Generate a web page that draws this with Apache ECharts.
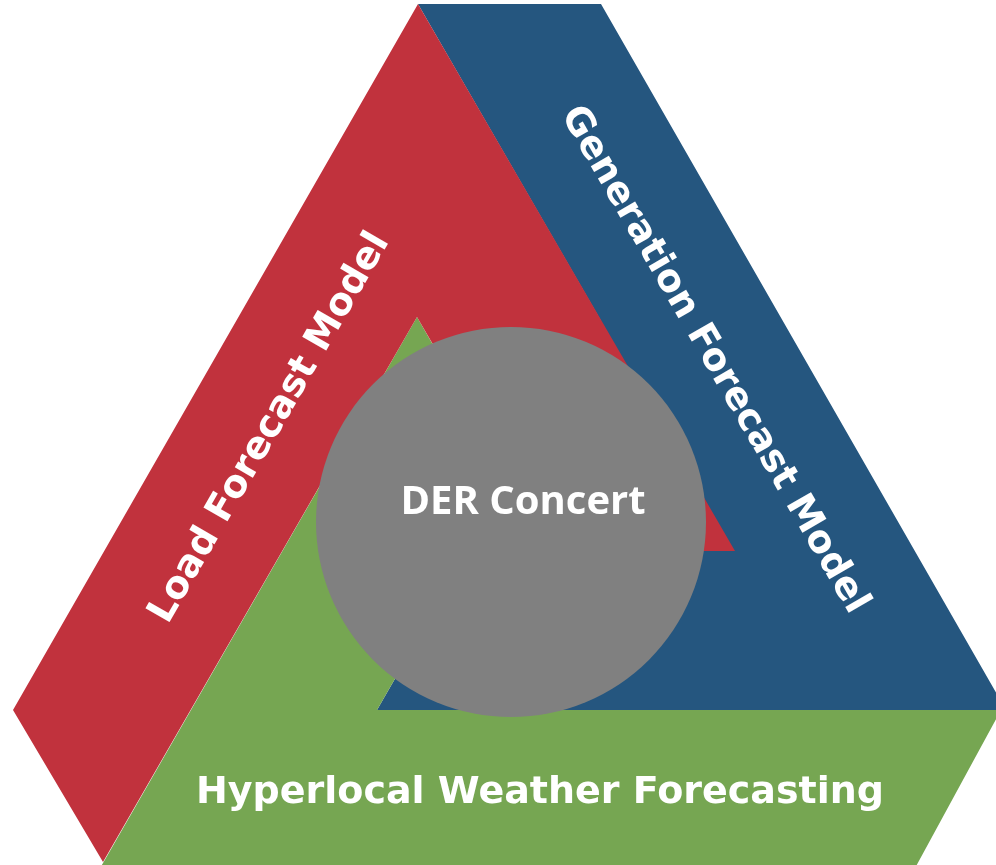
<!DOCTYPE html>
<html>
<head>
<meta charset="utf-8">
<script src="https://cdn.jsdelivr.net/npm/echarts@6/dist/echarts.min.js"></script>
<style>
html,body{margin:0;padding:0;background:#ffffff;}
#chart{width:996px;height:865px;}
</style>
</head>
<body>
<div id="chart"></div>
<script>
// Diagram geometry (data-space coordinates, x to the right, y downward)
const redBand   = [[13,710],[418,4],[735,551],[553,551],[417,317],[103,862]];
const blueBand  = [[418,4],[601,4],[1006,710],[377,710],[601,321]];
const greenBand = [[417,317],[510,479],[377,710],[1001,710],[914,870],[99,870]];
const centerCircle = [511,522,195];   // cx, cy, r
const centerLabel = 'DER Concert';
const centerLabelPos = [523,503];

const bandLabels = ['Load Forecast Model','Generation Forecast Model','Hyperlocal Weather Forecasting'];
const bandLabelPos = [[270,428],[714,360],[540,793]];
const bandLabelAngle = [60,-60,0];

const bands = [blueBand, greenBand, redBand];
const bandColors = ['#25567f','#76a652','#c1323d'];

const chart = echarts.init(document.getElementById('chart'), null, {renderer:'canvas'});

chart.setOption({
  animation:false,
  backgroundColor:'#ffffff',
  grid:{left:0,right:0,top:0,bottom:0},
  xAxis:{type:'value',min:0,max:996,show:false},
  yAxis:{type:'value',min:0,max:865,inverse:true,show:false},
  series:[
    {
      type:'custom',
      z:1,
      data:bands.map((b,i)=>[i]),
      renderItem:function(params, api){
        const i = api.value(0);
        const pts = bands[i].map(p=>api.coord(p));
        return {type:'polygon', shape:{points:pts}, style:{fill:bandColors[i], stroke:null}};
      }
    },
    {
      type:'custom',
      z:2,
      data:[centerCircle],
      renderItem:function(params, api){
        const c = api.coord([api.value(0), api.value(1)]);
        const r = api.size([api.value(2), 0])[0];
        return {type:'circle', shape:{cx:c[0], cy:c[1], r:r}, style:{fill:'#808080'}};
      }
    },
    {
      type:'custom',
      z:3,
      data:bandLabels.map((t,i)=>[bandLabelPos[i][0], bandLabelPos[i][1], bandLabelAngle[i], i]),
      renderItem:function(params, api){
        const c = api.coord([api.value(0), api.value(1)]);
        const i = api.value(3);
        return {
          type:'text', x:c[0], y:c[1], rotation:api.value(2)*Math.PI/180,
          style:{text:bandLabels[i], fill:'#ffffff', font:'bold 38px "DejaVu Sans"', align:'center', verticalAlign:'middle'}
        };
      }
    },
    {
      type:'custom',
      z:4,
      data:[centerLabelPos],
      renderItem:function(params, api){
        const c = api.coord([api.value(0), api.value(1)]);
        return {
          type:'text', x:c[0], y:c[1],
          style:{text:centerLabel, fill:'#ffffff', font:'bold 40px "Open Sans"', align:'center', verticalAlign:'middle'}
        };
      }
    }
  ]
});
</script>
</body>
</html>
